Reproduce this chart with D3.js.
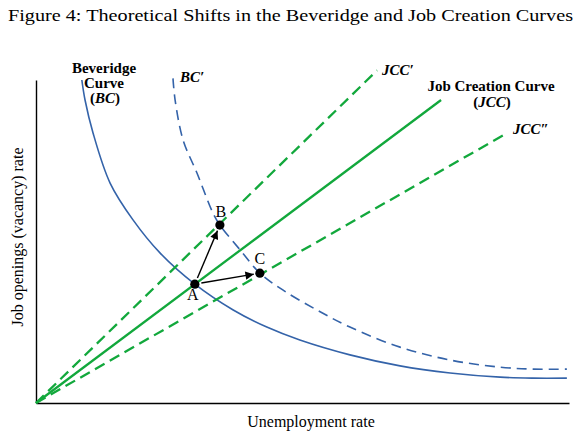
<!DOCTYPE html>
<html>
<head>
<meta charset="utf-8">
<script src="https://cdn.jsdelivr.net/npm/d3@7"></script>
<style>
  body { margin: 0; background: #fff; }
  svg { display: block; }
  text { font-family: "Liberation Serif", "DejaVu Serif", serif; }
</style>
</head>
<body>
<svg id="chart"></svg>
<script>
// beveridge curves (x = unemployment, y = vacancy, 0..100)
var bcPoints = [
  [8.6, 100], [9.2, 93.8], [10.7, 83.6], [13.9, 68.1], [18.2, 56.7], [23.3, 46.4],
  [29.8, 36.8], [37.0, 28.8], [43.3, 23.5], [49.5, 19.5], [58.9, 14.9], [68.3, 11.5],
  [77.7, 9.3], [87.1, 8.0], [93.2, 7.7], [99.6, 7.7]
]
var bcShiftPoints = [
  [25.7, 100.5], [26.1, 93.8], [27.6, 81.4], [30.2, 71.2], [33.2, 58.8], [34.5, 55.1],
  [38.3, 47.4], [42.0, 40.2], [46.3, 35.0], [52.7, 28.8], [58.9, 23.5], [68.3, 17.3],
  [77.7, 13.3], [87.1, 11.1], [93.2, 10.5], [99.6, 10.5]
]

// job creation curves: straight rays from the origin, given by their end point
var jccLines = [
  {name: "JCC", end: [76.0, 93.8], dashed: false},
  {name: "JCC'", end: [64.0, 103.0], dashed: true},
  {name: "JCC''", end: [88.4, 83.6], dashed: true}
]

var eqPoints = [
  {label: "A", x: 29.8, y: 36.8},
  {label: "B", x: 34.5, y: 55.1},
  {label: "C", x: 42.0, y: 40.2}
]
var moves = [["A", "B"], ["A", "C"]]

var width = 586
var height = 436
var dimensions = {margin: {top: 80, bottom: 33, left: 36, right: 17}}

var svg = d3.select("#chart")
  .attr("width", width)
  .attr("height", height)

var xScale = d3.scaleLinear()
  .domain([0, 100])
  .range([dimensions.margin.left, width - dimensions.margin.right])

var yScale = d3.scaleLinear()
  .domain([0, 100])
  .range([height - dimensions.margin.bottom, dimensions.margin.top])

var blue = "#3463a9"
var green = "#12a83c"

// title
svg.append("text")
  .attr("x", 8)
  .attr("y", 21)
  .attr("font-size", 17)
  .attr("textLength", 565)
  .attr("lengthAdjust", "spacingAndGlyphs")
  .text("Figure 4: Theoretical Shifts in the Beveridge and Job Creation Curves")

// axes, no ticks
var xAxis = svg.append("g")
  .attr("transform", `translate(0,${yScale(0)})`)
  .call(d3.axisBottom(xScale).tickValues([]).tickSizeOuter(0))
var yAxis = svg.append("g")
  .attr("transform", `translate(${xScale(0)},0)`)
  .call(d3.axisLeft(yScale).tickValues([]).tickSizeOuter(0))
svg.selectAll(".domain").attr("stroke", "#000").attr("stroke-width", 1.4)

svg.append("text")
  .attr("x", 311)
  .attr("y", 427)
  .attr("text-anchor", "middle")
  .attr("font-size", 16)
  .text("Unemployment rate")

svg.append("text")
  .attr("transform", "translate(23,237) rotate(-90)")
  .attr("text-anchor", "middle")
  .attr("font-size", 16)
  .text("Job openings (vacancy) rate")

// beveridge curves
var line = d3.line()
  .x(d => xScale(d[0]))
  .y(d => yScale(d[1]))
  .curve(d3.curveCatmullRom.alpha(0.5))

svg.append("path")
  .attr("d", line(bcPoints))
  .attr("fill", "none")
  .attr("stroke", blue)
  .attr("stroke-width", 1.6)

svg.append("path")
  .attr("d", line(bcShiftPoints))
  .attr("fill", "none")
  .attr("stroke", blue)
  .attr("stroke-width", 1.6)
  .attr("stroke-dasharray", "10,6")

// job creation curves
svg.selectAll(".jcc")
  .data(jccLines)
  .enter().append("line")
  .attr("class", "jcc")
  .attr("x1", xScale(0))
  .attr("y1", yScale(0))
  .attr("x2", d => xScale(d.end[0]))
  .attr("y2", d => yScale(d.end[1]))
  .attr("stroke", green)
  .attr("stroke-width", 2.3)
  .attr("stroke-dasharray", d => d.dashed ? "11,6" : null)

// arrows between equilibria
svg.append("defs").append("marker")
  .attr("id", "head")
  .attr("viewBox", "0 0 10 10")
  .attr("refX", 10)
  .attr("refY", 5)
  .attr("markerWidth", 7)
  .attr("markerHeight", 6)
  .attr("markerUnits", "strokeWidth")
  .attr("orient", "auto")
  .append("path")
  .attr("d", "M0,0 L10,5 L0,10 z")
  .attr("fill", "#000")

var byLabel = new Map(eqPoints.map(d => [d.label, d]))
var dotR = 4.6

moves.forEach(function(m){
  var a = byLabel.get(m[0]), b = byLabel.get(m[1])
  var x1 = xScale(a.x), y1 = yScale(a.y), x2 = xScale(b.x), y2 = yScale(b.y)
  var len = Math.hypot(x2 - x1, y2 - y1)
  var ux = (x2 - x1) / len, uy = (y2 - y1) / len
  svg.append("line")
    .attr("x1", x1 + ux * (dotR + 2))
    .attr("y1", y1 + uy * (dotR + 2))
    .attr("x2", x2 - ux * (dotR + 1.5))
    .attr("y2", y2 - uy * (dotR + 1.5))
    .attr("stroke", "#000")
    .attr("stroke-width", 1.4)
    .attr("marker-end", "url(#head)")
})

svg.selectAll(".dot")
  .data(eqPoints)
  .enter().append("circle")
  .attr("class", "dot")
  .attr("cx", d => xScale(d.x))
  .attr("cy", d => yScale(d.y))
  .attr("r", dotR)
  .attr("fill", "#000")

var labelOffset = {A: [-2, 16], B: [1, -8], C: [0, -9]}
svg.selectAll(".ptlabel")
  .data(eqPoints)
  .enter().append("text")
  .attr("class", "ptlabel")
  .attr("x", d => xScale(d.x) + labelOffset[d.label][0])
  .attr("y", d => yScale(d.y) + labelOffset[d.label][1])
  .attr("text-anchor", "middle")
  .attr("font-size", 16)
  .text(d => d.label)

// curve labels
function label(x, y, parts, anchor){
  var t = svg.append("text")
    .attr("x", x)
    .attr("y", y)
    .attr("text-anchor", anchor || "middle")
    .attr("font-size", 15)
    .attr("font-weight", "bold")
  parts.forEach(function(p){
    t.append("tspan")
      .attr("font-style", p[1] ? "italic" : "normal")
      .text(p[0])
  })
}

label(104, 73, [["Beveridge", false]])
label(104, 88, [["Curve", false]])
label(105, 103, [["(", false], ["BC", true], [")", false]])
label(180, 82, [["BC\u2032", true]], "start")
label(382, 75, [["JCC\u2032", true]], "start")
label(491, 91, [["Job Creation Curve", false]])
label(492, 107, [["(", false], ["JCC", true], [")", false]])
label(513, 134, [["JCC\u2033", true]], "start")
</script>
</body>
</html>
